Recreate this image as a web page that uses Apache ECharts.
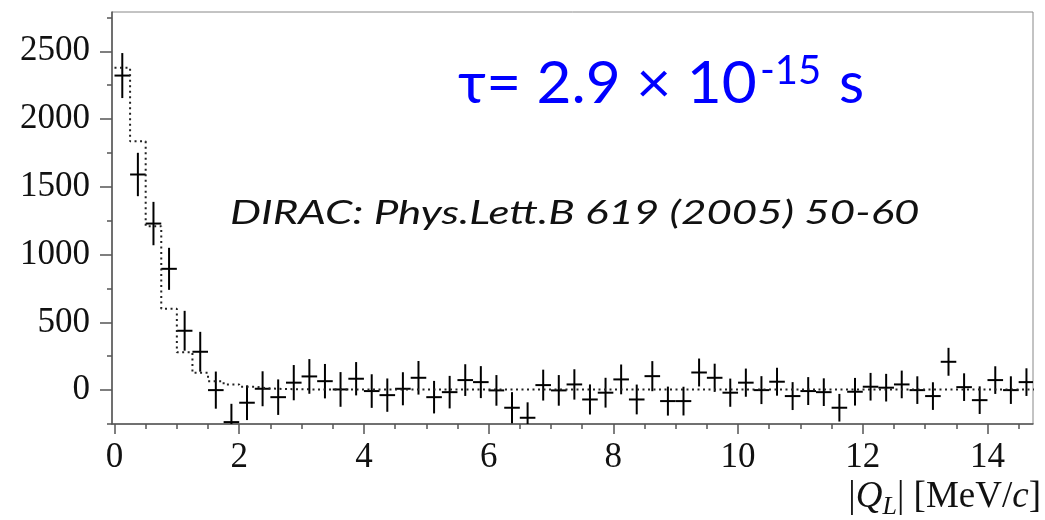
<!DOCTYPE html>
<html>
<head>
<meta charset="utf-8">
<script src="https://cdn.jsdelivr.net/npm/echarts@6/dist/echarts.min.js"></script>
<style>html,body{margin:0;padding:0;background:#fff}#c{width:1045px;height:520px}</style>
</head>
<body>
<div id="c"></div>
<script>
// |Q_L| bin centres [MeV/c]
const Q_CENTERS = [0.125,0.375,0.625,0.875,1.125,1.375,1.625,1.875,2.125,2.375,2.625,2.875,3.125,3.375,3.625,3.875,4.125,4.375,4.625,4.875,5.125,5.375,5.625,5.875,6.125,6.375,6.625,6.875,7.125,7.375,7.625,7.875,8.125,8.375,8.625,8.875,9.125,9.375,9.625,9.875,10.125,10.375,10.625,10.875,11.125,11.375,11.625,11.875,12.125,12.375,12.625,12.875,13.125,13.375,13.625,13.875,14.125,14.375,14.625];
const BIN_WIDTH = 0.25;
// measured counts (background subtracted)
const COUNTS = [2321,1591,1229,895,438,283,0,-236,-93,10,-52,55,101,66,5,84,-7,-37,10,91,-52,-15,74,59,-2,-130,-204,37,-2,42,-69,-19,79,-69,103,-81,-81,130,91,-19,55,0,62,-44,-7,-15,-130,-12,25,18,42,0,-44,209,22,-74,74,0,59];
const ERRORS = [166,160,160,155,147,147,137,135,128,129,131,130,128,127,128,123,124,123,122,124,120,120,117,118,113,115,114,114,113,112,111,110,110,110,111,107,106,103,104,104,104,103,103,103,103,102,102,102,102,102,102,102,102,103,102,102,102,102,102];
// fitted model (dotted histogram), one value per bin
const FIT = [2378,1836,1210,600,280,128,66,42,25,12,8,6,5,5,5,5,5,5,5,5,5,5,5,5,5,5,5,5,5,5,5,5,5,5,5,5,5,5,5,5,5,5,5,5,5,5,5,5,5,5,5,5,5,5,5,5,5,5,5];
const X_TICKS = [0,2,4,6,8,10,12,14];
const X_MINOR_TICKS = [0,0.5,1,1.5,2,2.5,3,3.5,4,4.5,5,5.5,6,6.5,7,7.5,8,8.5,9,9.5,10,10.5,11,11.5,12,12.5,13,13.5,14,14.5];
const Y_TICKS = [0,500,1000,1500,2000,2500];
const Y_MINOR_TICKS = [-250,0,250,500,750,1000,1250,1500,1750,2000,2250,2500,2750];

const points = Q_CENTERS.map((q,i)=>[q, COUNTS[i], ERRORS[i]]);
const fitLine = Q_CENTERS.map((q,i)=>[q - BIN_WIDTH/2, FIT[i]]);
fitLine.push([Q_CENTERS[Q_CENTERS.length-1] + BIN_WIDTH/2, FIT[FIT.length-1]]);

const AX = '#555';
const SERIF = '"Liberation Serif", "Times New Roman", serif';
const SANS = 'Lato, "Open Sans", sans-serif';
const BLUE = '#0000ff';
const chart = echarts.init(document.getElementById('c'), null, {renderer:'canvas'});
chart.setOption({
  animation:false,
  grid:{left:112, right:12, top:12, bottom:95, show:true, borderColor:'#888', borderWidth:1},
  xAxis:[{
    type:'value', min:-0.04, max:14.73,
    axisLine:{show:true, onZero:false, lineStyle:{color:AX, width:1.5}},
    axisTick:{show:true, customValues:X_MINOR_TICKS, length:5, lineStyle:{color:AX, width:1.5}},
    axisLabel:{customValues:X_TICKS, margin:16, fontFamily:SERIF, fontSize:35, color:'#111', formatter:v=>String(v)},
    splitLine:{show:false},
    name:'{n||}{i|Q}{s|L}{n|| [MeV/}{i|c}{n|]}',
    nameLocation:'end', nameGap:8,
    nameTextStyle:{align:'right', verticalAlign:'top', padding:[50,0,0,0],
      rich:{
        n:{fontFamily:SERIF, fontSize:37, color:'#111'},
        i:{fontFamily:SERIF, fontSize:37, fontStyle:'italic', color:'#111'},
        s:{fontFamily:SERIF, fontSize:26, fontStyle:'italic', color:'#111', verticalAlign:'bottom', padding:[20,0,0,0]}
      }}
  },{
    type:'value', min:-0.04, max:14.73, position:'bottom',
    axisLine:{show:false, onZero:false},
    axisTick:{show:true, customValues:X_TICKS, length:10, lineStyle:{color:AX, width:1.5}},
    axisLabel:{show:false}, splitLine:{show:false}
  }],
  yAxis:[{
    type:'value', min:-250, max:2790,
    axisLine:{show:true, onZero:false, lineStyle:{color:AX, width:1.5}},
    axisTick:{show:true, customValues:Y_TICKS, length:12, lineStyle:{color:AX, width:1.5}},
    axisLabel:{customValues:Y_TICKS, margin:22, fontFamily:SERIF, fontSize:35, color:'#111', formatter:v=>String(v)},
    splitLine:{show:false}
  },{
    type:'value', min:-250, max:2790, position:'left',
    axisLine:{show:false, onZero:false},
    axisTick:{show:true, customValues:Y_MINOR_TICKS, length:5, lineStyle:{color:AX, width:1.5}},
    axisLabel:{show:false}, splitLine:{show:false}
  }],
  series:[{
    type:'line', name:'fit', data:fitLine, step:'end', showSymbol:false, symbol:'none',
    xAxisIndex:0, yAxisIndex:0, clip:true,
    lineStyle:{color:'#222', width:2, type:[2,3.5]}
  },{
    type:'custom', name:'data', data:points, xAxisIndex:0, yAxisIndex:0, clip:true,
    renderItem:function(params, api){
      const x = api.value(0), y = api.value(1), e = api.value(2);
      const t = api.coord([x, y+e]), b = api.coord([x, y-e]);
      const l = api.coord([x-BIN_WIDTH/2, y]), r = api.coord([x+BIN_WIDTH/2, y]);
      const cs = params.coordSys;
      return {type:'group',
        clipPath:{type:'rect', shape:{x:cs.x, y:cs.y, width:cs.width, height:cs.height}},
        children:[
        {type:'line', shape:{x1:t[0], y1:t[1], x2:b[0], y2:b[1]}, style:{stroke:'#000', lineWidth:2}},
        {type:'line', shape:{x1:l[0], y1:l[1], x2:r[0], y2:r[1]}, style:{stroke:'#000', lineWidth:2}}
      ]};
    }
  }],
  graphic:[
    {type:'text', x:458, y:84, scaleX:1.04, style:{text:'τ= 2.9 × 10', fontFamily:SANS, fontSize:58, fill:BLUE, align:'left', verticalAlign:'middle'}},
    {type:'text', x:760, y:71, style:{text:'-15', fontFamily:SANS, fontSize:40, fill:BLUE, align:'left', verticalAlign:'middle'}},
    {type:'text', x:839, y:84, style:{text:'s', fontFamily:SANS, fontSize:58, fill:BLUE, align:'left', verticalAlign:'middle'}},
    {type:'text', x:230, y:213, scaleX:1.33, style:{text:'DIRAC: Phys.Lett.B 619 (2005) 50-60', fontFamily:SANS, fontStyle:'italic', fontSize:33, fill:'#111', align:'left', verticalAlign:'middle'}}
  ]
});
</script>
</body>
</html>
